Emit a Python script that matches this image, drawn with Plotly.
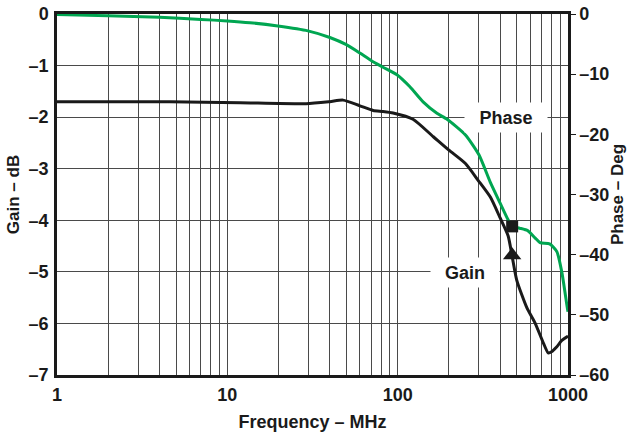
import plotly.graph_objects as go
import math

# ---- data ----
phase_freq = [1, 2, 4, 7, 10, 13.6, 19.8, 29.7, 40, 50, 60, 70.5, 81.6, 99, 118, 141, 170, 195,
              250, 300, 349, 399, 445, 470, 520, 580, 640, 685, 780, 860, 920, 990, 1000]
phase_deg = [-0.1, -0.3, -0.55, -0.9, -1.15, -1.45, -2.0, -2.8, -3.9, -5.1, -6.5, -7.8, -8.8, -10.1,
             -12.1, -14.6, -16.5, -17.5, -20.1, -23.4, -27.9, -31.4, -34.2, -35.3, -35.6, -36.0,
             -37.2, -38.0, -38.2, -39.5, -42.9, -48.8, -49.5]

gain_freq = [1, 4.6, 11.9, 29, 40, 47.8, 60, 71.8, 82, 94, 123, 162, 200, 250, 296, 350, 399, 445,
             470, 500, 574, 640, 717, 765, 800, 860, 920, 985, 1000]
gain_db = [-1.70, -1.70, -1.72, -1.74, -1.70, -1.67, -1.78, -1.87, -1.89, -1.92, -2.04, -2.38, -2.64,
           -2.90, -3.22, -3.55, -3.95, -4.30, -4.70, -5.16, -5.70, -5.99, -6.38, -6.57, -6.55,
           -6.45, -6.33, -6.26, -6.25]

marker_freq = 470
marker_phase = -35.3
marker_gain = -4.68

gain_ticks = [0, -1, -2, -3, -4, -5, -6, -7]
phase_ticks = [0, -10, -20, -30, -40, -50, -60]
decades = [1, 10, 100, 1000]

FONT = "Liberation Sans, Arial, sans-serif"
GREEN = "#00A651"
INK = "#1a1a1a"

xtickvals = []
for d in [1, 10, 100]:
    for m in range(1, 10):
        xtickvals.append(d * m)
xtickvals.append(1000)
xticktext = [("<b>%s</b>" % v) if v in decades else "" for v in xtickvals]


def dash_label(v):
    return "<b>%s</b>" % (("–" + str(abs(v))) if v < 0 else "0")


fig = go.Figure()
fig.add_trace(go.Scatter(x=phase_freq, y=phase_deg, yaxis="y2", mode="lines",
                         line=dict(color=GREEN, width=3, shape="spline", smoothing=0.6),
                         showlegend=False, hoverinfo="skip"))
fig.add_trace(go.Scatter(x=gain_freq, y=gain_db, mode="lines",
                         line=dict(color=INK, width=3, shape="spline", smoothing=0.6),
                         showlegend=False, hoverinfo="skip"))
fig.add_trace(go.Scatter(x=[marker_freq], y=[marker_phase], yaxis="y2", mode="markers",
                         marker=dict(symbol="square", size=12, color=INK),
                         showlegend=False, hoverinfo="skip"))
fig.add_trace(go.Scatter(x=[marker_freq], y=[marker_gain], mode="markers",
                         marker=dict(symbol="triangle-up", size=16, color=INK),
                         showlegend=False, hoverinfo="skip"))

fig.update_layout(
    width=627, height=436,
    margin=dict(l=57, r=59, t=14, b=61),
    paper_bgcolor="white", plot_bgcolor="white",
    font=dict(family=FONT, size=18, color=INK),
    xaxis=dict(type="log", range=[0, 3], tickvals=xtickvals, ticktext=xticktext,
               showgrid=True, gridcolor="#4a4a4a", gridwidth=1,
               showline=True, linecolor=INK, linewidth=2.5, mirror=True,
               ticks="", ticklabelstandoff=2, zeroline=False, automargin=False,
               tickfont=dict(size=18),
               title=dict(text="<b>Frequency – MHz</b>", font=dict(size=18), standoff=12)),
    yaxis=dict(range=[-7, 0], tickvals=gain_ticks,
               ticktext=[dash_label(v) for v in gain_ticks],
               showgrid=True, gridcolor="#4a4a4a", gridwidth=1,
               showline=True, linecolor=INK, linewidth=2.5,
               ticks="", zeroline=False, ticklabelstandoff=2, automargin=False,
               tickfont=dict(size=18),
               title=dict(text="<b>Gain – dB</b>", font=dict(size=17), standoff=5)),
    yaxis2=dict(range=[-60, 0], tickvals=phase_ticks,
                ticktext=[dash_label(v) for v in phase_ticks],
                overlaying="y", side="right", showgrid=False,
                showline=True, linecolor=INK, linewidth=2.5,
                ticks="outside", ticklen=5, tickwidth=1, tickcolor=INK,
                zeroline=False, automargin=False,
                tickfont=dict(size=18),
                title=dict(text="<b>Phase – Deg</b>", font=dict(size=17), standoff=1)),
    annotations=[
        dict(x=math.log10(430), y=-2.0, xref="x", yref="y", text="<b>Phase</b>", showarrow=False,
             bgcolor="white", width=80, height=27, font=dict(size=18)),
        dict(x=math.log10(250), y=-5.02, xref="x", yref="y", text="<b>Gain</b>", showarrow=False,
             bgcolor="white", width=66, height=27, font=dict(size=18)),
    ],
)

fig.write_html("out.html")
